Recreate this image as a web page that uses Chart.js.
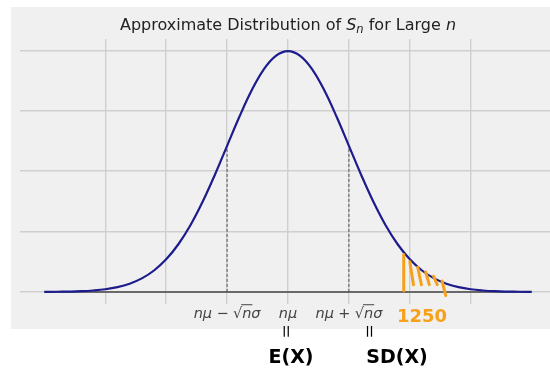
<!DOCTYPE html>
<html lang="en">
<head>
    <meta charset="UTF-8">
    <title>Approximate Distribution of Sn for Large n</title>
    <script src="https://cdn.jsdelivr.net/npm/chart.js"></script>
    <style>
        html, body { margin: 0; padding: 0; background: #fff; overflow: hidden; }
        #chart { position: absolute; left: 0; top: 0; }
    </style>
</head>
<body>
    <canvas id="chart" width="580" height="368"></canvas>

    <script>
        // standardised x (in sd units from n*mu) and the curve height
        const xValues = [-4, -3.8, -3.6, -3.4, -3.2, -3, -2.8, -2.6, -2.4, -2.2, -2, -1.8, -1.6, -1.4, -1.2, -1, -0.8, -0.6, -0.4, -0.2,
                         0, 0.2, 0.4, 0.6, 0.8, 1, 1.2, 1.4, 1.6, 1.8, 2, 2.2, 2.4, 2.6, 2.8, 3, 3.2, 3.4, 3.6, 3.8, 4];
        const density = [0.0001, 0.0003, 0.0006, 0.0012, 0.0024, 0.0044, 0.0079, 0.0136, 0.0224, 0.0355, 0.054, 0.079, 0.1109, 0.1497, 0.1942, 0.242, 0.2897, 0.3332, 0.3683, 0.391,
                         0.3989, 0.391, 0.3683, 0.3332, 0.2897, 0.242, 0.1942, 0.1497, 0.1109, 0.079, 0.054, 0.0355, 0.0224, 0.0136, 0.0079, 0.0044, 0.0024, 0.0012, 0.0006, 0.0003, 0.0001];

        const gridX = [-3, -2, -1, 0, 1, 2, 3];
        const gridY = [0, 0.1, 0.2, 0.3, 0.4];
        const sdMarks = [-1, 1];
        const tickValues = [-1, 0, 1];
        const tickLabels = ['nμ − √nσ', 'nμ', 'nμ + √nσ'];

        // hand-drawn notes on the screenshot
        const cutoff = 1.9;
        const cutoffTop = 0.062;
        const hatchX = [2.0, 2.13, 2.26, 2.39, 2.53];
        const hatchTop = [0.05, 0.041, 0.033, 0.026, 0.018];
        const notes = [
            { text: '||', x: -0.03, y: -0.07, size: 11 },
            { text: 'E(X)', x: 0.05, y: -0.118, size: 19 },
            { text: '||', x: 1.34, y: -0.07, size: 11 },
            { text: 'SD(X)', x: 1.79, y: -0.118, size: 19 },
        ];
        const cutoffLabel = '1250';

        const curve = xValues.map((x, i) => ({ x: x, y: density[i] }));
        const sdLines = sdMarks.map(m => [{ x: m, y: 0 }, { x: m, y: density[xValues.indexOf(m)] }]);

        const background = {
            id: 'background',
            beforeDraw(chart) {
                const ctx = chart.ctx;
                ctx.save();
                ctx.fillStyle = '#f0f0f0';
                ctx.fillRect(11, 7, chart.width - 11, 322);
                ctx.restore();
            }
        };

        function drawMath(ctx, str, cx, baseline, size) {
            const pieces = [];
            let over = false;
            for (const ch of str) {
                const plain = '−+ √'.includes(ch);
                pieces.push({ ch: ch, font: (plain ? '' : 'italic ') + size + 'px "DejaVu Sans"', over: over });
                over = ch === '√';
            }
            let total = 0;
            pieces.forEach(p => {
                ctx.font = p.font;
                p.w = p.ch === ' ' ? size * 0.3 : ctx.measureText(p.ch).width;
                total += p.w;
            });
            let x = cx - total / 2;
            pieces.forEach(p => {
                ctx.font = p.font;
                if (p.ch !== ' ') ctx.fillText(p.ch, x, baseline);
                if (p.over) ctx.fillRect(x - 1, baseline - size * 0.95, p.w + 2, 1);
                x += p.w;
            });
        }

        const annotations = {
            id: 'annotations',
            afterDraw(chart) {
                const ctx = chart.ctx;
                const xs = chart.scales.x, ys = chart.scales.y;
                ctx.save();

                // title
                const parts = [
                    { t: 'Approximate Distribution of ', f: '16px "DejaVu Sans"', dy: 0 },
                    { t: 'S', f: 'italic 16px "DejaVu Sans"', dy: 0 },
                    { t: 'n', f: 'italic 11.5px "DejaVu Sans"', dy: 3 },
                    { t: ' for Large ', f: '16px "DejaVu Sans"', dy: 0 },
                    { t: 'n', f: 'italic 16px "DejaVu Sans"', dy: 0 },
                ];
                let w = 0;
                parts.forEach(p => { ctx.font = p.f; p.w = ctx.measureText(p.t).width; w += p.w; });
                let tx = xs.getPixelForValue(0) - w / 2;
                ctx.fillStyle = '#222';
                ctx.textBaseline = 'alphabetic';
                parts.forEach(p => { ctx.font = p.f; ctx.fillText(p.t, tx, 30 + p.dy); tx += p.w; });

                // x tick labels
                ctx.fillStyle = '#444';
                tickValues.forEach((v, i) => drawMath(ctx, tickLabels[i], xs.getPixelForValue(v), ys.bottom + 14, 14.5));

                // hatching under the tail
                ctx.strokeStyle = '#f7a11a';
                ctx.lineWidth = 3;
                ctx.lineCap = 'round';
                hatchX.forEach((hx, i) => {
                    ctx.beginPath();
                    ctx.moveTo(xs.getPixelForValue(hx), ys.getPixelForValue(hatchTop[i]));
                    ctx.lineTo(xs.getPixelForValue(hx + 0.06), ys.getPixelForValue(i === hatchX.length - 1 ? -0.006 : 0.012));
                    ctx.stroke();
                });
                ctx.beginPath();
                ctx.moveTo(xs.getPixelForValue(cutoff), ys.getPixelForValue(cutoffTop));
                ctx.lineTo(xs.getPixelForValue(cutoff), ys.getPixelForValue(0.002));
                ctx.stroke();

                ctx.fillStyle = '#f7a11a';
                ctx.font = 'bold 18px "DejaVu Sans"';
                ctx.textAlign = 'center';
                ctx.fillText(cutoffLabel, xs.getPixelForValue(2.2), ys.bottom + 18);

                // black notes under the labels
                ctx.fillStyle = '#000';
                notes.forEach(n => {
                    ctx.font = 'bold ' + n.size + 'px "DejaVu Sans"';
                    ctx.fillText(n.text, xs.getPixelForValue(n.x), ys.getPixelForValue(n.y));
                });
                ctx.restore();
            }
        };

        new Chart(document.getElementById('chart'), {
            type: 'line',
            data: {
                datasets: [
                    {
                        data: curve,
                        borderColor: '#1c1c8c',
                        borderWidth: 2.2,
                        pointRadius: 0,
                        tension: 0.4
                    },
                    {
                        data: [{ x: xValues[0], y: 0 }, { x: xValues[xValues.length - 1], y: 0 }],
                        borderColor: '#444',
                        borderWidth: 1.5,
                        pointRadius: 0
                    },
                    ...sdLines.map(line => ({
                        data: line,
                        borderColor: '#555',
                        borderWidth: 1,
                        borderDash: [3, 2],
                        pointRadius: 0
                    }))
                ]
            },
            options: {
                responsive: false,
                animation: false,
                devicePixelRatio: 1,
                layout: { padding: { left: 20, right: 24, top: 39, bottom: 64 } },
                plugins: {
                    legend: { display: false },
                    tooltip: { enabled: false },
                    title: { display: false }
                },
                scales: {
                    x: {
                        type: 'linear',
                        min: -4.4,
                        max: 4.4,
                        afterBuildTicks: axis => { axis.ticks = gridX.map(v => ({ value: v })); },
                        ticks: { display: false },
                        grid: { color: '#cfcfcf', lineWidth: 1.4, drawTicks: false },
                        border: { display: false }
                    },
                    y: {
                        min: -0.02,
                        max: 0.419,
                        afterBuildTicks: axis => { axis.ticks = gridY.map(v => ({ value: v })); },
                        ticks: { display: false },
                        grid: { color: '#cfcfcf', lineWidth: 1.4, drawTicks: false },
                        border: { display: false }
                    }
                }
            },
            plugins: [background, annotations]
        });
    </script>
</body>
</html>
